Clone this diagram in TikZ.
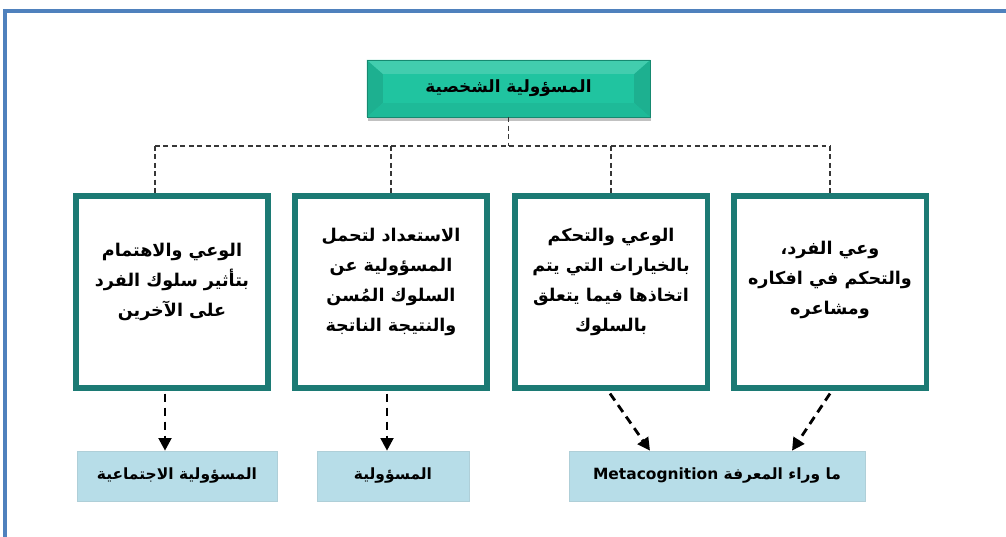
\documentclass[tikz,border=0pt]{standalone}
\usepackage{fontspec}
\newfontfamily\arabicfont[Script=Arabic]{DejaVu Sans}
\TeXXeTstate=1
\usetikzlibrary{arrows.meta,calc,shadows}

\definecolor{frameblue}{RGB}{79,129,189}
\definecolor{topteal}{RGB}{32,196,160}
\definecolor{boxteal}{RGB}{28,122,116}
\definecolor{lowblue}{RGB}{183,221,232}
\definecolor{linegray}{RGB}{55,55,55}

\begin{document}
\begin{tikzpicture}[x=0.025cm,y=-0.025cm,line join=miter,
    headbox/.style={minimum width=7.075cm,minimum height=1.425cm,
      fill=topteal,draw=topteal!70!black,line width=0.4pt,
      drop shadow={shadow xshift=0.5pt,shadow yshift=-2.5pt,opacity=0.35,fill=black!70},
      font=\arabicfont\bfseries\fontsize{12}{16}\selectfont,
      path picture={
        \fill[topteal!90!black] (path picture bounding box.north west) -- ++(16,14)
          -- ($(path picture bounding box.south west)+(16,-14)$) -- (path picture bounding box.south west) -- cycle;
        \fill[topteal!90!black] (path picture bounding box.north east) -- ++(-16,14)
          -- ($(path picture bounding box.south east)+(-16,-14)$) -- (path picture bounding box.south east) -- cycle;
        \fill[topteal!85!white] (path picture bounding box.north west) -- (path picture bounding box.north east)
          -- ++(-16,14) -- ($(path picture bounding box.north west)+(16,14)$) -- cycle;
        \fill[topteal!95!black] (path picture bounding box.south west) -- (path picture bounding box.south east)
          -- ++(-16,-14) -- ($(path picture bounding box.south west)+(16,-14)$) -- cycle;
      }},
    itembox/.style={draw=boxteal,line width=3.6pt,fill=white,
      minimum width=4.8cm,minimum height=4.8cm},
    itemtext/.style={align=center,font=\arabicfont\bfseries\fontsize{12.5}{21.5}\selectfont},
    resultbox/.style={fill=lowblue,draw=lowblue!85!gray,line width=0.4pt,
      minimum height=1.25cm,font=\arabicfont\bfseries\fontsize{11}{14}\selectfont},
    tree/.style={draw=linegray,line width=0.9pt,dash pattern=on 3.5pt off 2.5pt},
    flow/.style={draw=black,line width=2pt,dash pattern=on 6pt off 4pt,
      -{Triangle[length=9pt,width=9pt]}}]
  \useasboundingbox (0,0) rectangle (1006,537);

  % frame
  \draw[frameblue,line width=2.2pt] (5,537) -- (5,11) -- (1006,11);

  % head
  \node[headbox] (head) at (508.5,88.5) {\beginR المسؤولية الشخصية\endR};

  % four boxes
  \node[itembox] (b1) at (172,292) {};
  \node[itembox] (b2) at (391,292) {};
  \node[itembox] (b3) at (611,292) {};
  \node[itembox] (b4) at (830,292) {};

  \node[itemtext] (t1) at ($(b1.center)+(0,-10)$)
    {\beginR الوعي والاهتمام\endR\\ \beginR بتأثير سلوك الفرد\endR\\ \beginR على الآخرين\endR};
  \node[itemtext] (t2) at ($(b2.center)+(0,-10)$)
    {\beginR الاستعداد لتحمل\endR\\ \beginR المسؤولية عن\endR\\ \beginR السلوك المُسن\endR\\ \beginR والنتيجة الناتجة\endR};
  \node[itemtext] (t3) at ($(b3.center)+(0,-10)$)
    {\beginR الوعي والتحكم\endR\\ \beginR بالخيارات التي يتم\endR\\ \beginR اتخاذها فيما يتعلق\endR\\ \beginR بالسلوك\endR};
  \node[itemtext] (t4) at ($(b4.center)+(0,-12)$)
    {\beginR وعي الفرد،\endR\\ \beginR والتحكم في افكاره\endR\\ \beginR ومشاعره\endR};

  % results
  \node[resultbox,minimum width=5cm] (s1) at (177,476) {\beginR المسؤولية الاجتماعية\endR};
  \node[resultbox,minimum width=3.8cm] (s2) at (393,476) {\beginR المسؤولية\endR};
  \node[resultbox,minimum width=7.4cm] (s3) at (717,476)
    {\beginR ما وراء المعرفة \beginL Metacognition\endL\endR};

  % tree lines
  \coordinate (j0) at (508.5,146);
  \coordinate (j1) at (155,146);
  \coordinate (j4) at (830,146);
  \draw[tree] (head.south) -- (j0);
  \draw[tree] (j1) -- (j4);
  \draw[tree] (j1) -- (j1 |- b1.north);
  \draw[tree] (b2.north |- j0) -- (b2.north);
  \draw[tree] (b3.north |- j0) -- (b3.north);
  \draw[tree] (j4) -- (b4.north);

  % arrows
  \draw[flow] ($(b1.south)+(-7,3)$) -- ($(s1.north)+(-12,0)$);
  \draw[flow] ($(b2.south)+(-4,3)$) -- ($(s2.north)+(-6,0)$);
  \draw[flow] ($(b3.south)+(-1,3)$) -- ($(s3.north)+(-67,0)$);
  \draw[flow] ($(b4.south)+(0,3)$) -- ($(s3.north)+(75,0)$);
\end{tikzpicture}
\end{document}
